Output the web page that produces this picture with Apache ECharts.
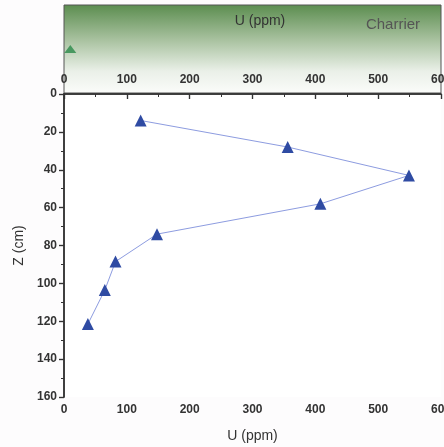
<!DOCTYPE html>
<html><head><meta charset="utf-8">
<script src="https://cdn.jsdelivr.net/npm/echarts@6/dist/echarts.min.js"></script>
<style>html,body{margin:0;padding:0;background:#fdfcfd;}#c{width:444px;height:447px;}</style>
</head><body><div id="c"></div>
<script>
// Data
const uPpm = [122, 356, 549, 408, 148, 82, 65, 38];
const depthCm = [14, 28, 43, 58, 74, 88.5, 103.5, 121.5];
const charrierU = [10];
const charrierY = [0.5];
const xTicks = [0, 100, 200, 300, 400, 500, 600];
const yTicks = [0, 20, 40, 60, 80, 100, 120, 140, 160];

const chart = echarts.init(document.getElementById('c'));
const axisCol = '#333';
const font = 'Liberation Sans, Arial, sans-serif';
const lblStyle = {color: '#333', fontSize: 12, fontWeight: 'bold', fontFamily: font};
chart.setOption({
  backgroundColor: '#fdfcfd',
  animation: false,
  grid: [
    {left: 64, right: 3, top: 94, bottom: 50, outerBoundsMode: 'none', containLabel: false,
     show: true, backgroundColor: '#ffffff', borderWidth: 0},
    {left: 64, right: 3, top: 5, height: 88, outerBoundsMode: 'none', containLabel: false,
     show: true, borderColor: '#555', borderWidth: 1,
     backgroundColor: new echarts.graphic.LinearGradient(0, 0, 0, 1, [
       {offset: 0, color: '#5b8d4f'}, {offset: 0.4, color: '#a9c2a0'}, {offset: 0.75, color: '#eaf0e8'}, {offset: 1, color: '#fbfcfa'}])}
  ],
  title: [
    {text: 'U (ppm)', left: 255, top: 9, textAlign: 'center', textStyle: {fontSize: 14, fontWeight: 'normal', color: '#333', fontFamily: font}},
    {text: 'Charrier', left: 388, top: 12, textAlign: 'center', textStyle: {fontSize: 15, fontWeight: 'normal', color: '#555', fontFamily: font}}
  ],
  xAxis: [
    {gridIndex: 0, type: 'value', min: xTicks[0], max: xTicks[xTicks.length - 1], interval: 100, position: 'bottom',
     name: 'U (ppm)', nameLocation: 'middle', nameGap: 32,
     nameTextStyle: {fontSize: 14, color: '#333', fontFamily: font},
     axisLine: {show: true, lineStyle: {color: axisCol, width: 1.5}},
     axisTick: {show: true, length: 5, lineStyle: {color: axisCol, width: 1.2}},
     minorTick: {show: true, splitNumber: 2, length: 3, lineStyle: {color: axisCol, width: 1}},
     splitLine: {show: false}, axisLabel: Object.assign({margin: 7}, lblStyle)},
    {gridIndex: 0, type: 'value', min: xTicks[0], max: xTicks[xTicks.length - 1], interval: 100, position: 'top',
     axisLine: {show: true, lineStyle: {color: axisCol, width: 1.5}},
     axisTick: {show: true, inside: true, length: 5, lineStyle: {color: axisCol, width: 1.2}},
     minorTick: {show: true, splitNumber: 2, length: 3, lineStyle: {color: axisCol, width: 1}},
     splitLine: {show: false}, axisLabel: Object.assign({margin: 8}, lblStyle)},
    {gridIndex: 1, type: 'value', min: 0, max: 600, show: false}
  ],
  yAxis: [
    {gridIndex: 0, type: 'value', inverse: true, min: yTicks[0], max: yTicks[yTicks.length - 1], interval: 20, position: 'left',
     name: 'Z (cm)', nameLocation: 'middle', nameGap: 38, nameRotate: 90,
     nameTextStyle: {fontSize: 14, color: '#333', fontFamily: font},
     axisLine: {show: true, lineStyle: {color: axisCol, width: 1.5}},
     axisTick: {show: true, length: 5, lineStyle: {color: axisCol, width: 1.2}},
     minorTick: {show: true, splitNumber: 2, length: 3, lineStyle: {color: axisCol, width: 1}},
     splitLine: {show: false}, axisLabel: Object.assign({margin: 7}, lblStyle)},
    {gridIndex: 0, type: 'value', inverse: true, min: 0, max: 160, interval: 20, position: 'right',
     axisLine: {show: true, lineStyle: {color: axisCol, width: 1.5}},
     axisTick: {show: true, inside: true, length: 5, lineStyle: {color: axisCol, width: 1.2}},
     minorTick: {show: true, splitNumber: 2, length: 3, lineStyle: {color: axisCol, width: 1}},
     splitLine: {show: false}, axisLabel: {show: false}},
    {gridIndex: 1, type: 'value', min: 0, max: 1, show: false}
  ],
  series: [
    {type: 'line', xAxisIndex: 0, yAxisIndex: 0,
     data: uPpm.map((u, i) => [u, depthCm[i]]),
     symbol: 'triangle', symbolSize: 12,
     lineStyle: {color: '#8d9ce0', width: 1},
     itemStyle: {color: '#2f4ba3'}},
    {type: 'scatter', xAxisIndex: 2, yAxisIndex: 2,
     data: charrierU.map((u, i) => [u, charrierY[i]]),
     symbol: 'triangle', symbolSize: [12, 8],
     itemStyle: {color: '#2a8a4a'}}
  ]
});
</script></body></html>
